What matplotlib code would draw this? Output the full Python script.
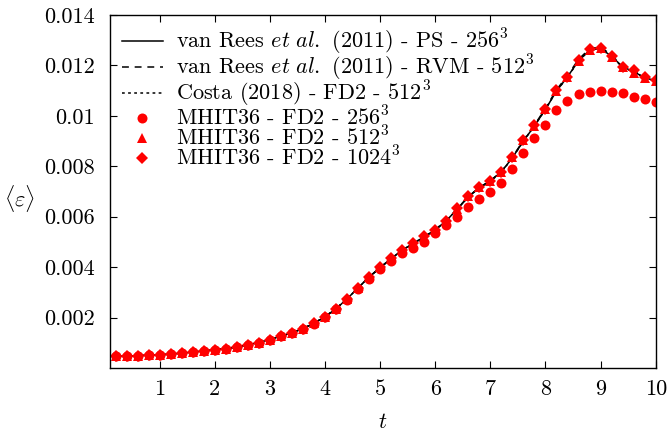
import matplotlib

matplotlib.use("Agg")

import matplotlib.pyplot as plt

plt.rcParams["font.family"] = ["cmr10", "DejaVu Serif"]
plt.rcParams["mathtext.fontset"] = "cm"
plt.rcParams["axes.formatter.use_mathtext"] = True

# time grid shared by all series
T = [0.2, 0.4, 0.6, 0.8, 1.0, 1.2, 1.4, 1.6, 1.8, 2.0,
     2.2, 2.4, 2.6, 2.8, 3.0, 3.2, 3.4, 3.6, 3.8, 4.0,
     4.2, 4.4, 4.6, 4.8, 5.0, 5.2, 5.4, 5.6, 5.8, 6.0,
     6.2, 6.4, 6.6, 6.8, 7.0, 7.2, 7.4, 7.6, 7.8, 8.0,
     8.2, 8.4, 8.6, 8.8, 9.0, 9.2, 9.4, 9.6, 9.8, 10.0]

# reference curves
VANREES_PS_256 = [0.00046, 0.00047, 0.00049, 0.00051, 0.00053, 0.00055, 0.00059, 0.00063, 0.00068, 0.00072,
                  0.00077, 0.00083, 0.00092, 0.00101, 0.00113, 0.00126, 0.00140, 0.00156, 0.00177, 0.00203,
                  0.00235, 0.00274, 0.00318, 0.00360, 0.00398, 0.00433, 0.00467, 0.00493, 0.00520, 0.00548,
                  0.00584, 0.00630, 0.00678, 0.00715, 0.00742, 0.00778, 0.00834, 0.00900, 0.00960, 0.01026,
                  0.01098, 0.01155, 0.01218, 0.01260, 0.01268, 0.01236, 0.01195, 0.01175, 0.01152, 0.01138]
VANREES_RVM_512 = [0.00046, 0.00047, 0.00049, 0.00051, 0.00053, 0.00055, 0.00059, 0.00063, 0.00068, 0.00072,
                   0.00077, 0.00083, 0.00092, 0.00101, 0.00113, 0.00126, 0.00140, 0.00157, 0.00178, 0.00204,
                   0.00236, 0.00275, 0.00319, 0.00361, 0.00399, 0.00434, 0.00468, 0.00494, 0.00521, 0.00549,
                   0.00585, 0.00632, 0.00680, 0.00716, 0.00743, 0.00779, 0.00836, 0.00903, 0.00963, 0.01030,
                   0.01103, 0.01160, 0.01224, 0.01266, 0.01274, 0.01240, 0.01198, 0.01178, 0.01155, 0.01140]
COSTA_FD2_512 = [0.00046, 0.00047, 0.00049, 0.00051, 0.00053, 0.00055, 0.00059, 0.00063, 0.00068, 0.00072,
                 0.00077, 0.00083, 0.00092, 0.00101, 0.00113, 0.00126, 0.00140, 0.00156, 0.00177, 0.00203,
                 0.00235, 0.00274, 0.00318, 0.00360, 0.00398, 0.00433, 0.00468, 0.00493, 0.00520, 0.00547,
                 0.00583, 0.00631, 0.00679, 0.00715, 0.00741, 0.00776, 0.00833, 0.00900, 0.00960, 0.01026,
                 0.01099, 0.01153, 0.01218, 0.01261, 0.01267, 0.01234, 0.01193, 0.01174, 0.01152, 0.01139]

# MHIT36 runs
MHIT_256 = [0.00046, 0.00047, 0.00049, 0.00051, 0.00053, 0.00055, 0.00059, 0.00063, 0.00068, 0.00072,
            0.00077, 0.00083, 0.00092, 0.00101, 0.00112, 0.00125, 0.00139, 0.00155, 0.00176, 0.00201,
            0.00233, 0.00271, 0.00314, 0.00354, 0.00392, 0.00424, 0.00457, 0.00477, 0.00501, 0.00534,
            0.00566, 0.00600, 0.00640, 0.00669, 0.00698, 0.00733, 0.00790, 0.00852, 0.00911, 0.00965,
            0.01023, 0.01060, 0.01087, 0.01096, 0.01100, 0.01096, 0.01090, 0.01076, 0.01067, 0.01055]
MHIT_512 = [0.00046, 0.00047, 0.00049, 0.00051, 0.00053, 0.00055, 0.00059, 0.00063, 0.00068, 0.00072,
            0.00077, 0.00083, 0.00092, 0.00101, 0.00113, 0.00126, 0.00140, 0.00156, 0.00177, 0.00203,
            0.00235, 0.00274, 0.00318, 0.00360, 0.00399, 0.00434, 0.00469, 0.00494, 0.00521, 0.00547,
            0.00583, 0.00632, 0.00682, 0.00716, 0.00742, 0.00776, 0.00836, 0.00903, 0.00961, 0.01027,
            0.01100, 0.01153, 0.01219, 0.01262, 0.01268, 0.01233, 0.01193, 0.01170, 0.01150, 0.01140]
MHIT_1024 = [0.00046, 0.00047, 0.00049, 0.00051, 0.00053, 0.00055, 0.00059, 0.00063, 0.00068, 0.00072,
             0.00077, 0.00083, 0.00092, 0.00101, 0.00113, 0.00126, 0.00140, 0.00156, 0.00177, 0.00203,
             0.00235, 0.00274, 0.00318, 0.00361, 0.00400, 0.00435, 0.00470, 0.00495, 0.00522, 0.00548,
             0.00584, 0.00633, 0.00683, 0.00717, 0.00743, 0.00777, 0.00837, 0.00904, 0.00962, 0.01028,
             0.01101, 0.01155, 0.01221, 0.01264, 0.01270, 0.01236, 0.01195, 0.01180, 0.01155, 0.01142]

X_TICKS = [1, 2, 3, 4, 5, 6, 7, 8, 9, 10]
Y_TICKS = [0.002, 0.004, 0.006, 0.008, 0.01, 0.012, 0.014]
Y_TICK_LABELS = ["0.002", "0.004", "0.006", "0.008", "0.01", "0.012", "0.014"]

RED = "#ff0000"
FONT_SIZE = 16


def main() -> None:
    figure = plt.figure(figsize=(6.67, 4.40), dpi=100)
    axis = figure.add_axes([0.165, 0.1636, 0.818, 0.8023])

    axis.plot(T, VANREES_PS_256, color="black", linewidth=1.1,
              label=r"van Rees $\mathit{et\ al.}$ (2011) - PS - $256^3$")
    axis.plot(T, VANREES_RVM_512, color="black", linewidth=1.1, dashes=(4.5, 3.8),
              label=r"van Rees $\mathit{et\ al.}$ (2011) - RVM - $512^3$")
    axis.plot(T, COSTA_FD2_512, color="black", linewidth=1.1, dashes=(1.8, 2.2),
              label=r"Costa (2018) - FD2 - $512^3$")

    axis.plot(T, MHIT_256, linestyle="none", marker="o", markersize=7.2,
              color=RED, markeredgewidth=0, label=r"MHIT36 - FD2 - $256^3$")
    axis.plot(T, MHIT_512, linestyle="none", marker="^", markersize=7.8,
              color=RED, markeredgewidth=0, label=r"MHIT36 - FD2 - $512^3$")
    axis.plot(T, MHIT_1024, linestyle="none", marker="D", markersize=6.2,
              color=RED, markeredgewidth=0, label=r"MHIT36 - FD2 - $1024^3$")

    axis.set_xlim(0.1, 10)
    axis.set_ylim(0, 0.014)
    axis.set_xticks(X_TICKS)
    axis.set_xticklabels([str(v) for v in X_TICKS])
    axis.set_yticks(Y_TICKS)
    axis.set_yticklabels(Y_TICK_LABELS)
    axis.minorticks_off()

    axis.tick_params(direction="in", top=True, right=True, length=5, width=0.8,
                     labelsize=FONT_SIZE)
    axis.tick_params(axis="y", pad=11)
    axis.tick_params(axis="x", pad=8)
    for spine in axis.spines.values():
        spine.set_linewidth(1.0)

    axis.set_xlabel(r"$t$", fontsize=FONT_SIZE, labelpad=10)
    axis.set_ylabel(r"$\langle\varepsilon\rangle$", fontsize=FONT_SIZE, rotation=0,
                    va="center", ha="center")
    axis.yaxis.set_label_coords(-0.165, 0.48)

    axis.legend(loc="upper left", bbox_to_anchor=(0.005, 0.99), frameon=False,
                fontsize=FONT_SIZE, handlelength=1.85, handletextpad=0.6,
                labelspacing=-0.18, borderpad=0.2, borderaxespad=0.2, numpoints=1)

    figure.savefig("out.png", dpi=100)
    plt.close(figure)


if __name__ == "__main__":
    main()
